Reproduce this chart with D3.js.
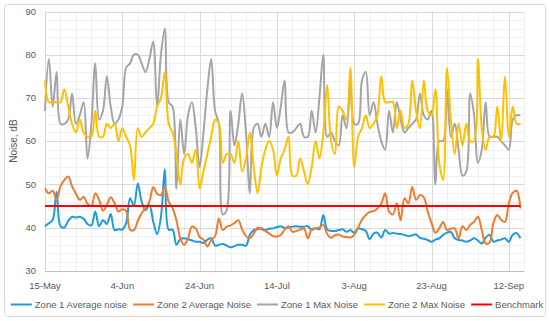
<!DOCTYPE html>
<html>
<head>
    <meta charset="utf-8">
    <title>Noise levels</title>
    <script src="https://cdn.jsdelivr.net/npm/d3@7"></script>
    <style>
        html, body { margin: 0; padding: 0; background: #fff; }
        svg { display: block; font-family: "Liberation Sans", Arial, sans-serif; }
        .tick-label, .legend text { fill: #595959; font-size: 9.5px; }
        .axis-title { fill: #595959; font-size: 10px; }
    </style>
</head>
<body>
<svg id="chart" width="550" height="321"></svg>
<script>
// daily readings, 15-May .. 15-Sep
var firstDay = new Date(2019, 4, 15);
var lastAxisDay = new Date(2019, 8, 16);
var xTicks = ["15-May", "4-Jun", "24-Jun", "14-Jul", "3-Aug", "23-Aug", "12-Sep"];
var yTicks = [30, 40, 50, 60, 70, 80, 90];

var zone1Avg = [40.3, 41, 41.8, 48.3, 40.3, 40, 41.5, 42.5, 42.3, 42.5, 42, 40.8, 40.5, 43.7, 40.3, 41.7, 40.8, 43.1, 39.4, 39.6,
    39.5, 41, 46.8, 45, 50.2, 46, 44, 45.2, 41.4, 38.5, 42.5, 53.5, 39.5, 39.5, 36, 37.3, 37.5, 37.3, 37, 36.7,
    36.7, 36.4, 37.2, 37.5, 35.8, 36, 36.2, 35.8, 35.4, 35.7, 36, 36, 35.8, 38.3, 39.4, 39.6, 39.8, 39.4, 39.7, 39.8,
    40.1, 40.3, 39.9, 40, 40.2, 40.3, 40.2, 40.2, 40.3, 39.4, 39.8, 39.6, 42.9, 39.5, 39.2, 39.2, 39.4, 39.6, 39, 39.4,
    38.8, 39.8, 39.6, 39.2, 37.3, 38.6, 38.8, 37.7, 39.4, 38.6, 38.7, 38.6, 38.5, 38.3, 38, 38.2, 38.4, 37.6, 37.4, 37.1,
    36.7, 37.2, 37.5, 38.3, 38.8, 39, 37.5, 37.1, 37, 36.7, 37, 37.5, 37, 36.3, 37.6, 38.3, 36.7, 37, 37.2, 37.5,
    36.7, 38.3, 38.7, 37.5];

var zone2Avg = [49.1, 47.9, 48.5, 46.4, 49.5, 51, 51.8, 49.5, 47.8, 46.4, 47.1, 45.5, 45, 47.9, 46.4, 43.9, 45.2, 47, 45.6, 43.7,
    44.2, 43.8, 39.5, 39.4, 41.5, 43.3, 44.5, 46, 49.3, 47.8, 47.5, 49.3, 46, 44.5, 41.7, 37.5, 36, 37.5, 40.2, 39.8,
    37.8, 37.2, 35.6, 37.1, 38, 42.1, 39.4, 40.2, 40.5, 41, 41.7, 39.5, 38, 37.5, 38.6, 40, 39.6, 39.2, 38.6, 38,
    37.9, 38.3, 39.5, 40.3, 39, 39.2, 39.5, 39.8, 37.5, 39.6, 39.8, 40, 40.6, 38.5, 37.6, 38.2, 38.4, 37.9, 37.8, 37.7,
    38.3, 40, 41.8, 42.9, 43.6, 43.8, 44.4, 45.5, 47.9, 43.7, 43, 45.6, 41.7, 46.8, 45.6, 49.4, 46.4, 47.5, 47, 43.7,
    41, 38.8, 39.8, 41.3, 39.4, 39.7, 39.8, 37.5, 40.3, 39.4, 40.6, 41.3, 42.5, 39.4, 36.3, 36.5, 41, 42.9, 41.8, 41.3,
    45.6, 48, 48.5, 44.4];

var zone1Max = [67, 79, 68, 76, 64, 64, 65, 71, 64, 66, 69, 56, 64, 78, 65, 67, 75, 68, 64, 65,
    68, 77, 78, 80, 80, 78, 76, 79, 83, 68, 80, 86, 69, 68, 49, 65, 57, 66, 69, 63,
    54, 62, 72, 79, 67, 64, 43, 44, 67, 59, 64, 71, 62, 48, 63, 64, 61, 64, 61, 69,
    63, 68, 74, 62, 62, 63, 64, 61, 61, 67, 62, 70, 80, 61, 62, 60, 59, 66, 63, 73,
    64, 64, 74, 76, 66, 69, 64, 60, 58, 67, 62, 69, 65, 62, 63, 64, 65, 71, 66, 65,
    67, 50, 60, 60, 72, 61, 64, 58, 52, 53, 71, 66, 55, 58, 69, 61, 61, 61, 60, 59,
    58, 65, 66, 66];

var zone2Max = [74, 69, 69, 69, 69, 72, 68, 64, 62, 65, 62, 61, 61, 67, 61, 61, 64, 63, 64, 60,
    63, 61, 59, 51, 63, 61, 62, 63, 64, 68, 70, 76, 64, 62, 57, 50, 56, 57, 55, 58,
    49, 53, 57, 61, 65, 64, 55, 57, 57, 55, 60, 53, 56, 62, 54, 48, 54, 58, 60, 58,
    52, 56, 58, 61, 52, 52, 56, 53, 50, 54, 60, 56, 62, 73, 60, 57, 68, 67, 65, 77,
    54, 61, 63, 66, 63, 64, 66, 75, 69, 69, 69, 63, 67, 63, 64, 74, 67, 63, 74, 67,
    66, 72, 55, 51, 77, 65, 57, 64, 59, 64, 60, 60, 79, 63, 58, 61, 61, 68, 60, 75,
    61, 68, 64, 64];

var benchmark = [45, 45];

var seriesNames = ["Zone 1 Average noise", "Zone 2 Average Noise", "Zone 1 Max Noise", "Zone 2 Max Noise", "Benchmark"];
var seriesColors = ["#1e9bd8", "#ee7b2e", "#a5a5a5", "#ffc000", "#ff0000"];

var svg = d3.select("#chart");
var plot = { left: 45, right: 524.3, top: 11.5, bottom: 270.7 };

// chart frame
svg.append("rect")
    .attr("x", 4.5).attr("y", 4.5)
    .attr("width", 541).attr("height", 312)
    .attr("rx", 3)
    .attr("fill", "#fff")
    .attr("stroke", "#d9d9d9");

var x = d3.scaleTime().domain([firstDay, lastAxisDay]).range([plot.left, plot.right]);
var y = d3.scaleLinear().domain([30, 90]).range([plot.bottom, plot.top]);

var dayOf = function(i) { return d3.timeDay.offset(firstDay, i); };
var px = function(v) { return Math.round(v) + 0.5; };

// gridlines: minor every 4 days / 2 dB, major every 20 days / 10 dB
var g = svg.append("g");
function vLines(days, colour) {
    g.selectAll(null)
        .data(days)
        .enter().append("line")
        .attr("x1", function(d) { return px(x(dayOf(d))); })
        .attr("x2", function(d) { return px(x(dayOf(d))); })
        .attr("y1", plot.top).attr("y2", plot.bottom)
        .attr("stroke", colour);
}
function hLines(vals, colour) {
    g.selectAll(null)
        .data(vals)
        .enter().append("line")
        .attr("x1", plot.left).attr("x2", plot.right)
        .attr("y1", function(d) { return px(y(d)); })
        .attr("y2", function(d) { return px(y(d)); })
        .attr("stroke", function(d) { return d === 30 ? "#bfbfbf" : colour; });
}
vLines(d3.range(0, 125, 4), "#f0f0f0");
hLines(d3.range(32, 90, 2), "#f0f0f0");
vLines(d3.range(0, 125, 20), "#d9d9d9");
hLines(yTicks, "#d9d9d9");

// axis labels
svg.selectAll(".ylab")
    .data(yTicks)
    .enter().append("text")
    .attr("class", "tick-label")
    .attr("x", 36)
    .attr("y", function(d) { return y(d); })
    .attr("dy", "0.35em")
    .attr("text-anchor", "end")
    .text(function(d) { return d; });

svg.selectAll(".xlab")
    .data(xTicks)
    .enter().append("text")
    .attr("class", "tick-label")
    .attr("x", function(d, i) { return x(dayOf(i * 20)); })
    .attr("y", 289)
    .attr("text-anchor", "middle")
    .text(function(d) { return d; });

svg.append("text")
    .attr("class", "axis-title")
    .attr("transform", "translate(17," + ((plot.top + plot.bottom) / 2) + ") rotate(-90)")
    .attr("text-anchor", "middle")
    .text("Noise, dB");

// series
var line = d3.line()
    .x(function(d, i) { return x(dayOf(i)); })
    .y(function(d) { return y(d); })
    .curve(d3.curveCatmullRom.alpha(0.5));

var allSeries = [zone1Avg, zone2Avg, zone1Max, zone2Max];
svg.selectAll(".series")
    .data(allSeries)
    .enter().append("path")
    .attr("d", line)
    .attr("fill", "none")
    .attr("stroke", function(d, i) { return seriesColors[i]; })
    .attr("stroke-width", 2)
    .attr("stroke-linejoin", "round");

svg.append("line")
    .attr("x1", x(dayOf(0))).attr("x2", x(dayOf(zone1Avg.length - 1)))
    .attr("y1", y(benchmark[0])).attr("y2", y(benchmark[1]))
    .attr("stroke", seriesColors[4])
    .attr("stroke-width", 2);

// legend, laid out left to right and centred
var legend = svg.append("g").attr("class", "legend");
var items = legend.selectAll("g")
    .data(seriesNames)
    .enter().append("g");
items.append("line")
    .attr("x1", 0).attr("x2", 21)
    .attr("y1", 0).attr("y2", 0)
    .attr("stroke", function(d, i) { return seriesColors[i]; })
    .attr("stroke-width", 2);
items.append("text")
    .attr("x", 24)
    .attr("dy", "0.35em")
    .text(function(d) { return d; });

var cursor = 0;
items.each(function() {
    var w = 24 + d3.select(this).select("text").node().getComputedTextLength();
    d3.select(this).attr("transform", "translate(" + cursor + ",0)");
    cursor += w + 6;
});
var legendWidth = cursor - 6;
legend.attr("transform", "translate(" + (277 - legendWidth / 2) + ",304.5)");
</script>
</body>
</html>
